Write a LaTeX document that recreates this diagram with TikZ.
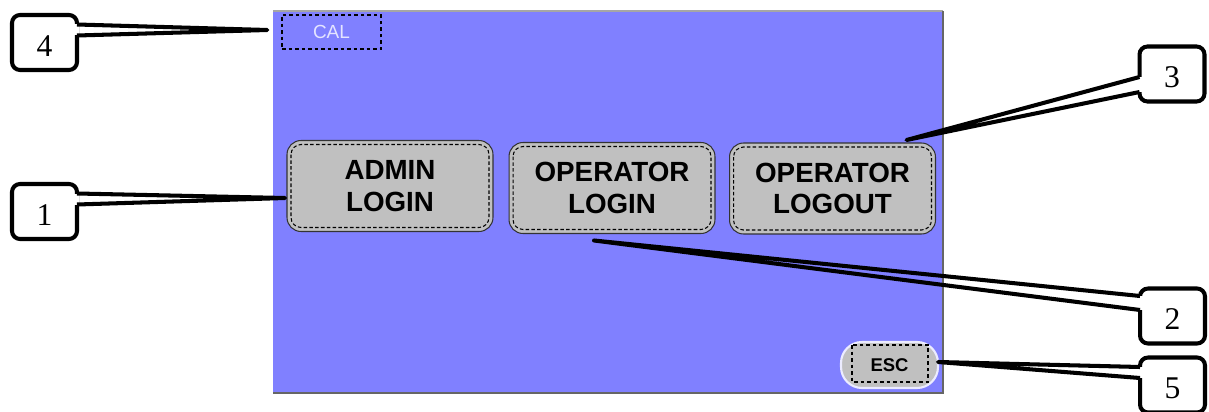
\documentclass[tikz,border=0pt]{standalone}
\usepackage{fontspec}
\setmainfont{Liberation Serif}
\newfontfamily\arial{Liberation Sans}
\usetikzlibrary{calc}

\definecolor{screen}{HTML}{8080FF}
\definecolor{btngray}{HTML}{C0C0C0}
\definecolor{callight}{HTML}{E4E4FF}

\tikzset{
	button/.style={fill=btngray, draw=black!80, line width=0.6pt, rounded corners=0.28cm, minimum width=4.12cm, minimum height=1.82cm, inner sep=0pt, outer sep=0pt, align=center, font=\arial\bfseries\fontsize{15.8}{18.1}\selectfont},
	inset/.style={dash pattern=on 2pt off 1.3pt, line width=0.6pt, rounded corners=0.2cm},
	escbtn/.style={fill=btngray, draw=white!85!screen, line width=1.2pt, rounded corners=0.42cm, minimum width=1.94cm, minimum height=0.92cm, inner sep=0pt, outer sep=0pt, font=\arial\bfseries\fontsize{10.5}{12}\selectfont},
	calbox/.style={draw, dash pattern=on 2.2pt off 1.5pt, line width=0.7pt, minimum width=1.98cm, minimum height=0.68cm, inner sep=0pt, text=callight, font=\arial\fontsize{10.8}{12}\selectfont},
	callout/.style={draw, fill=white, line width=2.3pt, rounded corners=0.16cm, minimum width=1.3cm, minimum height=1.1cm, inner sep=0pt, outer sep=0pt, font=\fontsize{18}{18}\selectfont, text height=15.6pt, text depth=0pt},
	pointer/.style={line width=2.3pt, line join=round}
}

\begin{document}
\begin{tikzpicture}[x=0.02cm, y=-0.02cm]
	\useasboundingbox (0,0) rectangle (1209,412);

	\fill[screen] (273,11) rectangle (943,393);
	\draw[gray!70, line width=1.2pt] (273,11) -- (943,11);
	\draw[black!60, line width=0.6pt] (943,11) -- (943,393) -- (273,393);

	\node[calbox] (cal) at (331.5,32) {CAL};

	\node[button] (admin) at (390,186) {ADMIN\\LOGIN};
	\node[button] (oplogin) at (612,188) {OPERATOR\\LOGIN};
	\node[button] (oplogout) at (832.5,188.5) {OPERATOR\\LOGOUT};
	\foreach \b in {admin, oplogin, oplogout}
		\draw[inset] ($(\b.north west)+(4,4)$) rectangle ($(\b.south east)+(-4,-4)$);

	\node[escbtn] (esc) at (889.5,365) {ESC};
	\draw[dash pattern=on 2.2pt off 1.5pt, line width=0.7pt] ($(esc.north west)+(11,3)$) rectangle ($(esc.south east)+(-10,-6)$);

	\node[callout] (c4) at (44.5,42.5) {4};
	\node[callout] (c1) at (44.5,211.5) {1};
	\node[callout] (c3) at (1172,74) {3};
	\node[callout] (c2) at (1172.5,316) {2};
	\node[callout] (c5) at (1172.5,385) {5};

	\coordinate (t4) at ($(cal.west)+(-14,-2)$);
	\coordinate (t1) at ($(admin.west)+(-2,12)$);
	\coordinate (t2) at ($(oplogin.south)+(-18,7)$);
	\coordinate (t3) at ($(oplogout.north)+(74,-3)$);
	\coordinate (t5) at ($(esc.east)+(0,-3)$);

	\foreach \c/\side/\ya/\yb/\t in {c4/east/-18/-7/t4, c1/east/-18/-7/t1, c3/west/3/18/t3, c2/west/-20/-6/t2, c5/west/-18/-7/t5} {
		\fill[white] ($(\c.\side)+(-2.5,\ya)$) rectangle ($(\c.\side)+(2.5,\yb)$);
		\draw[pointer] ($(\c.\side)+(0,\ya)$) -- (\t) -- ($(\c.\side)+(0,\yb)$);
	}
\end{tikzpicture}
\end{document}
